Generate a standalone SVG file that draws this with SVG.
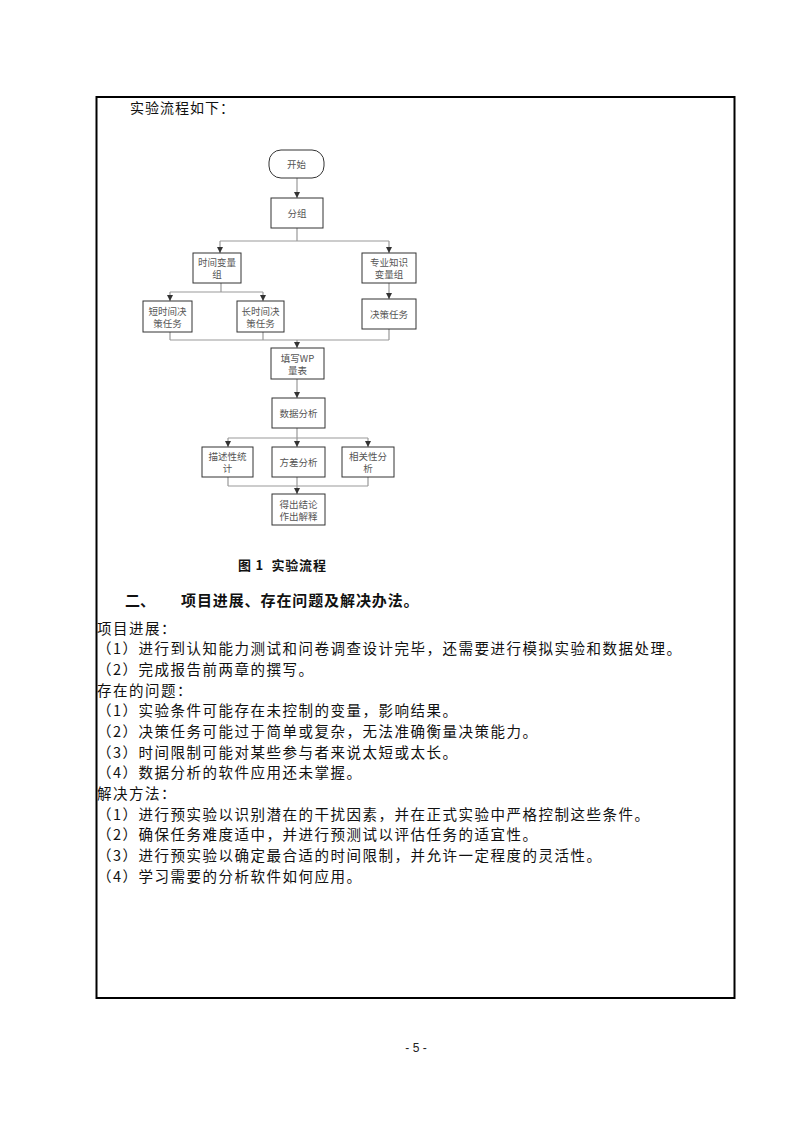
<svg xmlns="http://www.w3.org/2000/svg" width="793" height="1122" viewBox="0 0 793 1122">
<defs>
<marker id="arr" markerUnits="userSpaceOnUse" markerWidth="6" markerHeight="6" refX="6" refY="3" orient="auto">
<path d="M0,0 L6,3 L0,6 z" fill="#333"/>
</marker>
<style>
.box{fill:#fff;stroke:#333;stroke-width:1}
.ft{font-family:"Noto Sans CJK SC","Noto Sans",sans-serif;font-size:9.5px;fill:#555;text-anchor:middle}
.c{fill:none;stroke:#999;stroke-width:1.2}
.ca{fill:none;stroke:#999;stroke-width:1.2;marker-end:url(#arr)}
.body{font-family:"Noto Sans CJK SC","Liberation Serif",sans-serif;font-size:14.5px;fill:#111;letter-spacing:1.5px}
.bold{font-family:"Noto Sans CJK SC","Liberation Serif",sans-serif;font-weight:bold;fill:#111}
</style>
</defs>
<rect width="793" height="1122" fill="#fff"/>
<rect x="96.5" y="97" width="638" height="901" fill="none" stroke="#000" stroke-width="2"/>
<text x="130" y="113" class="body" style="font-size:14px;letter-spacing:1px">实验流程如下：</text>

<g id="connectors">
<path class="ca" d="M297,178 V198"/>
<path class="c" d="M297,228 V241 M220,241 H389"/>
<path class="ca" d="M220,241 V253"/>
<path class="ca" d="M389,241 V253"/>
<path class="c" d="M221,283 V292 M170,292 H263"/>
<path class="ca" d="M170,292 V301"/>
<path class="ca" d="M263,292 V301"/>
<path class="ca" d="M389,283 V299"/>
<path class="c" d="M170,332 V340 M263,332 V340 M389,329 V340 M170,340 H389"/>
<path class="ca" d="M297,340 V348"/>
<path class="ca" d="M297,379 V398"/>
<path class="c" d="M297,428 V438 M228,438 H368"/>
<path class="ca" d="M228,438 V447"/>
<path class="ca" d="M297,438 V447"/>
<path class="ca" d="M368,438 V447"/>
<path class="c" d="M228,477 V486 M297,477 V486 M368,477 V486 M228,486 H368"/>
<path class="ca" d="M297,486 V494"/>
</g>

<g id="start"><rect class="box" x="269" y="150" width="55" height="28" rx="12"/><text class="ft" x="296.5" y="167.5">开始</text></g>
<g id="group"><rect class="box" x="271" y="198" width="52" height="30"/><text class="ft" x="297" y="216.5">分组</text></g>
<g id="timevar"><rect class="box" x="193" y="253" width="48" height="30"/><text class="ft" x="217" y="266">时间变量</text><text class="ft" x="217" y="278">组</text></g>
<g id="knowvar"><rect class="box" x="362" y="253" width="54" height="30"/><text class="ft" x="389" y="266">专业知识</text><text class="ft" x="389" y="278">变量组</text></g>
<g id="short"><rect class="box" x="143" y="301" width="49" height="31"/><text class="ft" x="167.5" y="314.5">短时间决</text><text class="ft" x="167.5" y="326.5">策任务</text></g>
<g id="long"><rect class="box" x="237" y="301" width="47" height="31"/><text class="ft" x="260.5" y="314.5">长时间决</text><text class="ft" x="260.5" y="326.5">策任务</text></g>
<g id="decision"><rect class="box" x="362" y="299" width="54" height="30"/><text class="ft" x="389" y="317.5">决策任务</text></g>
<g id="wp"><rect class="box" x="271" y="348" width="53" height="31"/><text class="ft" x="297.5" y="361.5">填写WP</text><text class="ft" x="297.5" y="373.5">量表</text></g>
<g id="analysis"><rect class="box" x="272" y="398" width="53" height="30"/><text class="ft" x="298.5" y="416.5">数据分析</text></g>
<g id="desc"><rect class="box" x="202" y="447" width="51" height="30"/><text class="ft" x="227.5" y="460">描述性统</text><text class="ft" x="227.5" y="472">计</text></g>
<g id="anova"><rect class="box" x="272" y="447" width="53" height="30"/><text class="ft" x="298.5" y="465.5">方差分析</text></g>
<g id="corr"><rect class="box" x="342" y="447" width="52" height="30"/><text class="ft" x="368" y="460">相关性分</text><text class="ft" x="368" y="472">析</text></g>
<g id="conclusion"><rect class="box" x="272" y="494" width="53" height="31"/><text class="ft" x="298.5" y="507.5">得出结论</text><text class="ft" x="298.5" y="519.5">作出解释</text></g>

<text x="238" y="569.5" class="bold" style="font-size:13px;letter-spacing:0.8px;white-space:pre">图 1  实验流程</text>
<text x="125" y="605.5" class="bold" style="font-size:15px">二、</text>
<text x="181" y="605.5" class="bold" style="font-size:15px;letter-spacing:0.9px">项目进展、存在问题及解决办法。</text>

<g class="body">
<text x="97" y="633.5">项目进展：</text>
<text x="97" y="654.2">（1）进行到认知能力测试和问卷调查设计完毕，还需要进行模拟实验和数据处理。</text>
<text x="97" y="674.8">（2）完成报告前两章的撰写。</text>
<text x="97" y="695.5">存在的问题：</text>
<text x="97" y="716.2">（1）实验条件可能存在未控制的变量，影响结果。</text>
<text x="97" y="736.8">（2）决策任务可能过于简单或复杂，无法准确衡量决策能力。</text>
<text x="97" y="757.5">（3）时间限制可能对某些参与者来说太短或太长。</text>
<text x="97" y="778.2">（4）数据分析的软件应用还未掌握。</text>
<text x="97" y="798.8">解决方法：</text>
<text x="97" y="819.5">（1）进行预实验以识别潜在的干扰因素，并在正式实验中严格控制这些条件。</text>
<text x="97" y="840.2">（2）确保任务难度适中，并进行预测试以评估任务的适宜性。</text>
<text x="97" y="860.8">（3）进行预实验以确定最合适的时间限制，并允许一定程度的灵活性。</text>
<text x="97" y="881.5">（4）学习需要的分析软件如何应用。</text>
</g>

<text x="416" y="1052" style="font-family:'Liberation Sans','Noto Sans',sans-serif;font-size:12px;fill:#222;text-anchor:middle">- 5 -</text>
</svg>
